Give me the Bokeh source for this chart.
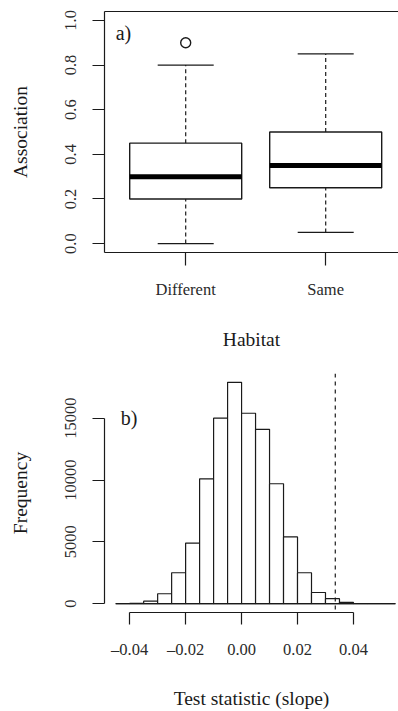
from bokeh.plotting import figure
from bokeh.layouts import column
from bokeh.models import Range1d, FixedTicker, LinearAxis, Span, Label, PrintfTickFormatter
from bokeh.embed import file_html
from bokeh.resources import INLINE

# ---------------- data: panel a (boxplot) ----------------
categories = ["Different", "Same"]
whisker_low = [0.00, 0.05]
q1 = [0.20, 0.25]
median = [0.30, 0.35]
q3 = [0.45, 0.50]
whisker_high = [0.80, 0.85]
outlier_group = ["Different"]
outlier_value = [0.90]
assoc_ticks = [0.0, 0.2, 0.4, 0.6, 0.8, 1.0]

# ---------------- data: panel b (histogram) ----------------
bin_edges = [-0.045, -0.040, -0.035, -0.030, -0.025, -0.020, -0.015, -0.010, -0.005, 0.000,
             0.005, 0.010, 0.015, 0.020, 0.025, 0.030, 0.035, 0.040, 0.045, 0.050, 0.055]
counts = [0, 20, 200, 800, 2500, 4900, 10100, 15000, 17900, 15400,
          14100, 9700, 5400, 2500, 900, 400, 100, 10, 0, 0]
observed_slope = 0.0335
freq_ticks = [0, 5000, 10000, 15000]
slope_ticks = [-0.04, -0.02, 0.0, 0.02, 0.04]
slope_tick_labels = ["\u20130.04", "\u20130.02", "0.00", "0.02", "0.04"]

FONT = "Liberation Serif"
INK = "#1a1a1a"
TICK_FS = "16.5px"
TITLE_FS = "19.5px"


def style_axis(ax, tick_out=12):
    ax.axis_line_color = INK
    ax.axis_line_width = 1.2
    ax.major_tick_line_color = INK
    ax.major_tick_line_width = 1.2
    ax.major_tick_out = tick_out
    ax.major_tick_in = 0
    ax.minor_tick_line_color = None
    ax.major_label_text_font = FONT
    ax.major_label_text_font_size = TICK_FS
    ax.major_label_text_color = "#2a2a2a"
    ax.axis_label_text_font = FONT
    ax.axis_label_text_font_size = TITLE_FS
    ax.axis_label_text_font_style = "normal"
    ax.axis_label_text_color = INK


# ================= panel a =================
pos = [i + 1 for i in range(len(categories))]
p1 = figure(width=398, height=360, x_range=Range1d(0.42, 2.52), y_range=Range1d(-0.04, 1.04),
            output_backend="svg", toolbar_location=None,
            min_border_left=104, min_border_right=0, min_border_top=11, min_border_bottom=108)
p1.outline_line_color = None
p1.xgrid.grid_line_color = None
p1.ygrid.grid_line_color = None
p1.background_fill_color = "white"
p1.border_fill_color = "white"

xa = p1.xaxis[0]
style_axis(xa, 13)
xa.ticker = FixedTicker(ticks=pos)
xa.major_label_overrides = {p: c for p, c in zip(pos, categories)}
xa.major_label_standoff = 14
xa.axis_label = "Habitat"
xa.axis_label_standoff = 27

ya = p1.yaxis[0]
style_axis(ya, 12)
ya.ticker = FixedTicker(ticks=assoc_ticks)
ya.formatter = PrintfTickFormatter(format="%.1f")
ya.major_label_orientation = "vertical"
ya.major_label_standoff = 16
ya.axis_label = "Association"
ya.axis_label_standoff = 32

top_ax = LinearAxis(ticker=FixedTicker(ticks=[]), major_tick_out=0, major_tick_in=0,
                    minor_tick_out=0, minor_tick_in=0, major_label_text_font_size="0px",
                    axis_line_color=INK, axis_line_width=1.2)
p1.add_layout(top_ax, "above")

left = [p - 0.4 for p in pos]
right = [p + 0.4 for p in pos]
p1.segment(x0=pos, y0=q3, x1=pos, y1=whisker_high, line_color=INK, line_width=1.2, line_dash="4 3")
p1.segment(x0=pos, y0=whisker_low, x1=pos, y1=q1, line_color=INK, line_width=1.2, line_dash="4 3")
p1.segment(x0=[p - 0.2 for p in pos], y0=whisker_high, x1=[p + 0.2 for p in pos], y1=whisker_high,
           line_color=INK, line_width=1.3)
p1.segment(x0=[p - 0.2 for p in pos], y0=whisker_low, x1=[p + 0.2 for p in pos], y1=whisker_low,
           line_color=INK, line_width=1.3)
p1.quad(left=left, right=right, bottom=q1, top=q3, fill_color="white", line_color=INK, line_width=1.4)
p1.segment(x0=left, y0=median, x1=right, y1=median, line_color="black", line_width=5, line_cap="butt")
p1.scatter(x=[pos[categories.index(g)] for g in outlier_group], y=outlier_value, marker="circle",
           size=10, fill_color=None, line_color=INK, line_width=1.4)
p1.add_layout(Label(x=0.5, y=0.945, text="a)", text_font=FONT, text_font_size="20px",
                    text_baseline="middle", text_align="left", text_color=INK))

# ================= panel b =================
ymax = max(counts)
xspan = bin_edges[-1] - bin_edges[0]
p2 = figure(width=398, height=351,
            x_range=Range1d(bin_edges[0] - 0.04 * xspan, 0.0561),
            y_range=Range1d(-0.04 * ymax, 1.04 * ymax),
            output_backend="svg", toolbar_location=None,
            min_border_left=104, min_border_right=0, min_border_top=13, min_border_bottom=97)
p2.outline_line_color = None
p2.xgrid.grid_line_color = None
p2.ygrid.grid_line_color = None
p2.background_fill_color = "white"
p2.border_fill_color = "white"

xb = p2.xaxis[0]
style_axis(xb, 12)
xb.ticker = FixedTicker(ticks=slope_ticks)
xb.major_label_overrides = {t: l for t, l in zip(slope_ticks, slope_tick_labels)}
xb.bounds = (slope_ticks[0], slope_ticks[-1])
xb.major_label_standoff = 15
xb.axis_label = "Test statistic (slope)"
xb.axis_label_standoff = 26

yb = p2.yaxis[0]
style_axis(yb, 12)
yb.ticker = FixedTicker(ticks=freq_ticks)
yb.bounds = (freq_ticks[0], freq_ticks[-1])
yb.major_label_orientation = "vertical"
yb.major_label_standoff = 16
yb.axis_label = "Frequency"
yb.axis_label_standoff = 32

p2.segment(x0=[bin_edges[0]], y0=[0], x1=[bin_edges[-1]], y1=[0], line_color=INK, line_width=1.2)
p2.quad(left=bin_edges[:-1], right=bin_edges[1:], bottom=0, top=counts,
        fill_color="white", line_color=INK, line_width=1.2)
p2.add_layout(Span(location=observed_slope, dimension="height", line_color=INK,
                   line_width=1.2, line_dash="4 4"))
p2.add_layout(Label(x=-0.0432, y=15000, text="b)", text_font=FONT, text_font_size="20px",
                    text_baseline="middle", text_align="left", text_color=INK))

layout = column(p1, p2, spacing=0)
open("out.html", "w").write(file_html(layout, INLINE))
